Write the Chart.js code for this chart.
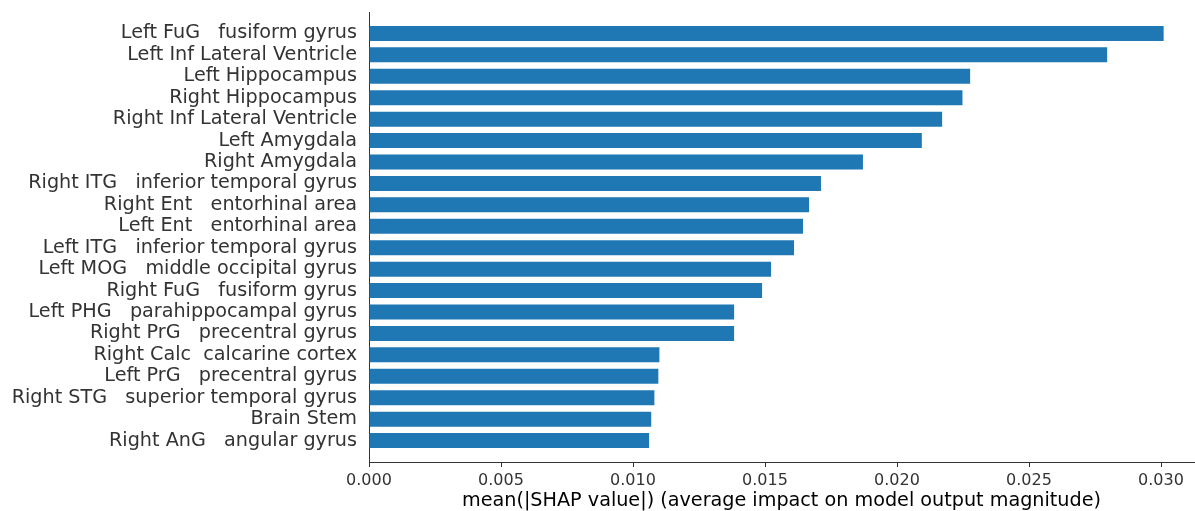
<!DOCTYPE html>
<html>
<head>
<meta charset="utf-8">
<script src="https://cdn.jsdelivr.net/npm/chart.js@4/dist/chart.umd.min.js"></script>
<style>
  html, body { margin: 0; padding: 0; background: #ffffff; }
  #wrap { width: 1195px; height: 511px; position: relative; }
</style>
</head>
<body>
<div id="wrap"><canvas id="c" width="1195" height="511"></canvas></div>
<script>
// ---- data ----
const regions = [
  'Left FuG   fusiform gyrus',
  'Left Inf Lateral Ventricle',
  'Left Hippocampus',
  'Right Hippocampus',
  'Right Inf Lateral Ventricle',
  'Left Amygdala',
  'Right Amygdala',
  'Right ITG   inferior temporal gyrus',
  'Right Ent   entorhinal area',
  'Left Ent   entorhinal area',
  'Left ITG   inferior temporal gyrus',
  'Left MOG   middle occipital gyrus',
  'Right FuG   fusiform gyrus',
  'Left PHG   parahippocampal gyrus',
  'Right PrG   precentral gyrus',
  'Right Calc  calcarine cortex',
  'Left PrG   precentral gyrus',
  'Right STG   superior temporal gyrus',
  'Brain Stem',
  'Right AnG   angular gyrus'
];
const meanAbsShap = [
  0.03010, 0.02796, 0.02277, 0.02248, 0.02171, 0.02094, 0.01871,
  0.01712, 0.01667, 0.01644, 0.01610, 0.01523, 0.01489, 0.01383,
  0.01383, 0.01100, 0.01096, 0.01081, 0.01069, 0.01061
];
const xTicks = [0.000, 0.005, 0.010, 0.015, 0.020, 0.025, 0.030];
const xLabel = 'mean(|SHAP value|) (average impact on model output magnitude)';

// one empty slot above and below the bars (like ylim -1..n)
const labels = [''].concat(regions, ['']);
const values = [null].concat(meanAbsShap, [null]);

const FONT = 'DejaVu Sans';
const TXT = '#333333';

new Chart(document.getElementById('c'), {
  type: 'bar',
  data: {
    labels: labels,
    datasets: [{
      data: values,
      backgroundColor: '#1f77b4',
      borderWidth: 0,
      barPercentage: 0.7,
      categoryPercentage: 1.0
    }]
  },
  options: {
    indexAxis: 'y',
    responsive: false,
    animation: false,
    devicePixelRatio: 1,
    layout: { padding: { left: 0, right: 1, top: 12, bottom: 0 } },
    plugins: { legend: { display: false }, tooltip: { enabled: false } },
    scales: {
      y: {
        type: 'category',
        offset: false,
        grid: { display: false, drawTicks: false },
        border: { display: true, color: TXT, width: 1 },
        ticks: {
          autoSkip: false,
          padding: 12,
          color: TXT,
          font: { family: FONT, size: 19.2 }
        },
        afterFit: function (s) { s.width = 369; s.paddingTop = 0; s.paddingBottom = 0; }
      },
      x: {
        type: 'linear',
        min: 0,
        max: 0.03125,
        grid: { drawOnChartArea: false, drawTicks: true, tickLength: 5, color: TXT },
        border: { display: true, color: TXT, width: 1 },
        afterBuildTicks: function (s) { s.ticks = xTicks.map(v => ({ value: v })); },
        ticks: {
          padding: 4,
          color: TXT,
          font: { family: FONT, size: 16 },
          callback: v => Number(v).toFixed(3)
        },
        title: {
          display: true,
          text: xLabel,
          color: '#000000',
          padding: { top: 0, bottom: -2 },
          font: { family: FONT, size: 19.2 }
        },
        afterFit: function (s) { s.height = 49; s.paddingLeft = 0; s.paddingRight = 0; }
      }
    }
  }
});
</script>
</body>
</html>
